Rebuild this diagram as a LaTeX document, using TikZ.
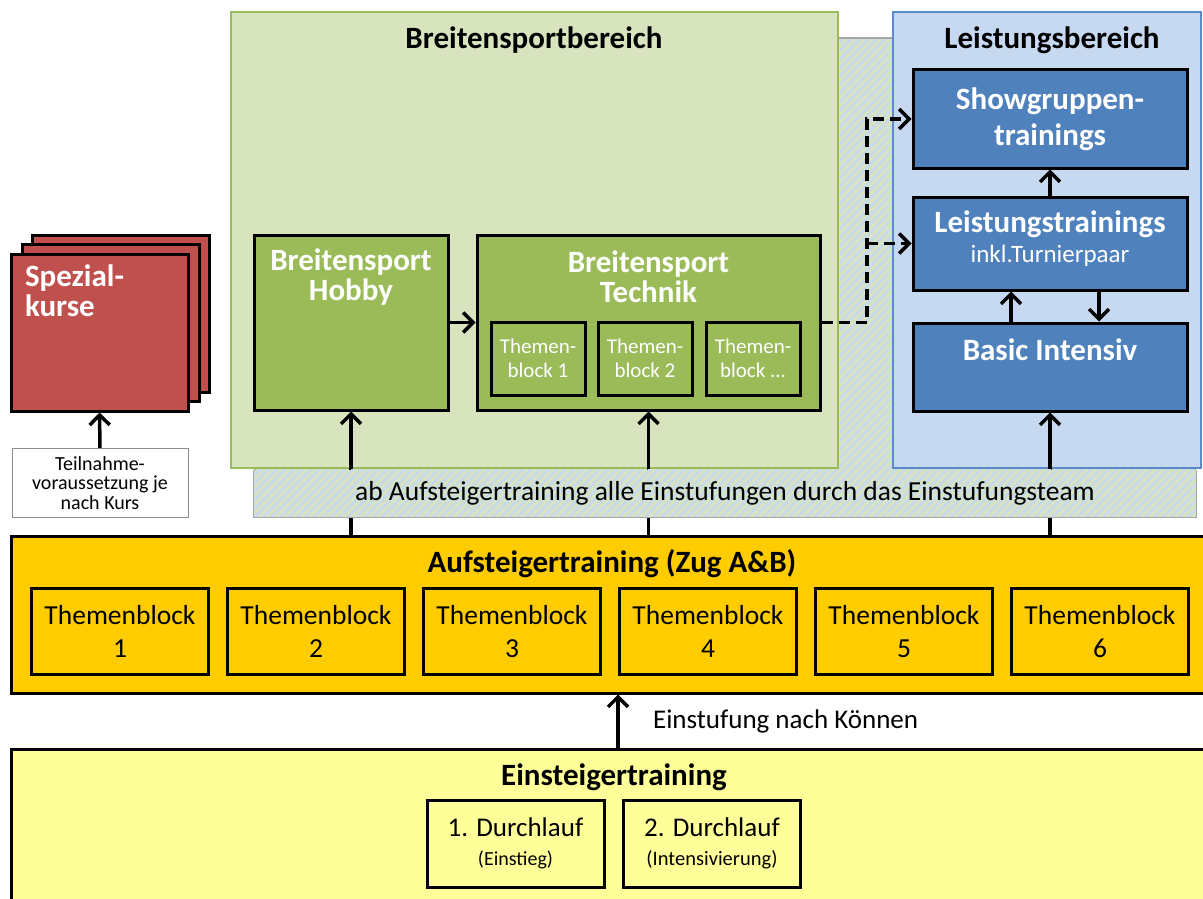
\documentclass[tikz,border=0pt]{standalone}
\usepackage{fontspec}
\setmainfont{Carlito}
\usetikzlibrary{positioning, patterns.meta, arrows.meta}

\definecolor{breitehell}{HTML}{D7E4BD}
\definecolor{breiterand}{HTML}{9BBB59}
\definecolor{breitedunkel}{HTML}{9BBB59}
\definecolor{leistunghell}{HTML}{C6D9F1}
\definecolor{leistungrand}{HTML}{5B8BC7}
\definecolor{leistungdunkel}{HTML}{4F81BD}
\definecolor{spezialrot}{HTML}{C0504D}
\definecolor{aufgelb}{HTML}{FFCC00}
\definecolor{eingelb}{HTML}{FFFF99}
\definecolor{streifen}{HTML}{C9DAEA}

\newcommand\fsz[2]{\fontsize{#1}{#2}\selectfont}
\newcommand\punkte{...}

\begin{document}
\begin{tikzpicture}[x=1pt, y=-1pt,
		bereich/.style={draw, line width=1.5pt, inner sep=0pt},
		schraffur/.style={draw=black!35, line width=1.5pt, preaction={fill=breitehell}, pattern={Lines[angle=45, distance=6pt, line width=3pt]}, pattern color=streifen},
		kasten/.style={draw=black, line width=3pt, inner sep=0pt},
		titel/.style={font=\fsz{31}{36}\bfseries},
		weiss/.style={text=white, font=\fsz{31}{30}\bfseries, align=center},
		pfeil/.style={line width=3.5pt, -{Straight Barb[length=10pt,width=20pt]}},
		strich/.style={pfeil, dash pattern=on 11pt off 6pt} ]
	\clip (0,0) rectangle (1203,899);

	% Hintergrund mit Einstufung
	\node[schraffur, inner sep=0pt, minimum width=940pt, minimum height=478pt] (band) at (725,277) {};

	% Bereiche
	\node[bereich, draw=breiterand, fill=breitehell, minimum width=607pt, minimum height=456pt] (breite) at (534.5,240) {};
	\node[titel] (breitetitel) at (534,40) {Breitensportbereich};
	\node[bereich, draw=leistungrand, fill=leistunghell, minimum width=308pt, minimum height=456pt] (leistung) at (1047,240) {};
	\node[titel] (leistungtitel) at (1052,40) {Leistungsbereich};

	% Breitensport
	\node[kasten, fill=breitedunkel, minimum width=194pt, minimum height=175pt] (hobby) at (351,322.5) {};
	\node[weiss] at (351,277) {Breitensport\\Hobby};
	\node[kasten, fill=breitedunkel, minimum width=343pt, minimum height=175pt] (technik) at (648.5,322.5) {};
	\node[weiss] at (648.5,277) {Breitensport\\Technik};
	\foreach \i/\x/\t in {1/538/1, 2/645/2, 3/753/\punkte} {
		\node[kasten, fill=breitedunkel, minimum width=94pt, minimum height=73pt] (tb\i) at (\x,358.5) {};
		\node[text=white, font=\fsz{21}{24}, align=center] at (\x,358) {Themen-\\block \t};
	}

	% Leistung
	\node[kasten, fill=leistungdunkel, minimum width=274pt, minimum height=98pt] (show) at (1050,119) {};
	\node[weiss, font=\fsz{31}{36}\bfseries] at (1050,119) {Showgruppen-\\trainings};
	\node[kasten, fill=leistungdunkel, minimum width=274pt, minimum height=93pt] (leist) at (1050,243.5) {};
	\node[weiss] at (1050,224) {Leistungstrainings};
	\node[text=white, font=\fsz{25}{30}] at (1050,256) {inkl.Turnierpaar};
	\node[kasten, fill=leistungdunkel, minimum width=274pt, minimum height=88pt] (basic) at (1050,367) {};
	\node[weiss] at (1050,350) {Basic Intensiv};

	% Spezialkurse
	\node[kasten, fill=spezialrot, minimum width=177pt, minimum height=157pt] (spez3) at (121,313.5) {};
	\node[kasten, fill=spezialrot, minimum width=177pt, minimum height=157pt] (spez2) at (110.5,323) {};
	\node[kasten, fill=spezialrot, minimum width=177pt, minimum height=157pt] (spez) at (99.5,332.5) {};
	\node[weiss, align=left, anchor=north west] at ([xshift=12pt,yshift=-9pt]spez.north west) {Spezial-\\kurse};
	\node[draw=black!45, line width=1pt, fill=white, minimum width=176pt, minimum height=69pt, align=center, font=\fsz{20}{19.5}] (teil) at (100,483) {Teilnahme-\\voraussetzung je\\nach Kurs};

	% Aufsteiger und Einsteiger
	\node[kasten, fill=aufgelb, minimum width=1204pt, minimum height=157pt] (auf) at (613,614.5) {};
	\node[titel] at (612,564) {Aufsteigertraining (Zug A\&B)};
	\foreach \i in {1,...,6} {
		\node[kasten, fill=aufgelb, minimum width=177pt, minimum height=86pt, align=center, font=\fsz{27.5}{33}] (ab\i) at ({120+196*(\i-1)},631) {Themenblock\\\smash{\i}};
	}
	\node[kasten, fill=eingelb, minimum width=1204pt, minimum height=171pt] (ein) at (613,834.5) {};
	\node[titel] at (614,777) {Einsteigertraining};
	\node[kasten, fill=eingelb, minimum width=177pt, minimum height=87pt, align=center, font=\fsz{27}{29}] (dl1) at (515.5,843.5) {1. Durchlauf\\{\fsz{20}{29}(Einstieg)}};
	\node[kasten, fill=eingelb, minimum width=177pt, minimum height=87pt, align=center, font=\fsz{27}{29}] (dl2) at (712,843.5) {2. Durchlauf\\{\fsz{20.5}{29}(Intensivierung)}};

	% Verbindungen
	\draw[pfeil] (teil.north) -- (spez.south);
	\draw[pfeil] (hobby.east) -- (technik.west);
	\coordinate (knick) at (867,322.5);
	\draw[strich] (technik.east) -- (knick) |- (show.west);
	\draw[strich] (knick |- leist.west) -- (leist.west);
	\draw[pfeil] (leist.north) -- (show.south);
	\draw[pfeil] ([xshift=-39pt]basic.north) -- ([xshift=-39pt]leist.south);
	\draw[pfeil] ([xshift=49pt]leist.south) -- ([xshift=49pt]basic.north);
	\draw[pfeil] (auf.north -| hobby.south) -- (hobby.south);
	\draw[pfeil] (auf.north -| technik.south) -- (technik.south);
	\draw[pfeil] (auf.north -| basic.south) -- (basic.south);
	\draw[pfeil] (ein.north -| 618,0) -- (auf.south -| 618,0) node[midway, right=30pt, font=\fsz{27}{30}] {Einstufung nach Können};

	% unterer Teil des Bandes liegt ueber den Pfeilen
	\coordinate (bandoben) at ([yshift=-1pt]band.west |- breite.south);
	\draw[schraffur] (bandoben) -- (band.south west) -- (band.south east) -- (bandoben -| band.east);
	\node[font=\fsz{27.5}{32}] (bandtext) at (725,493) {ab Aufsteigertraining alle Einstufungen durch das Einstufungsteam};
\end{tikzpicture}
\end{document}
